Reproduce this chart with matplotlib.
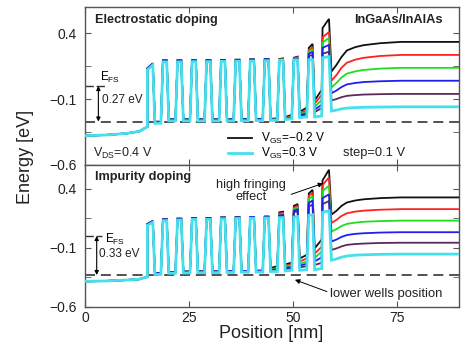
import matplotlib
matplotlib.use("Agg")
import matplotlib.pyplot as plt

plt.rcParams['font.family'] = ['Liberation Sans', 'DejaVu Sans']
plt.rcParams['mathtext.fontset'] = 'custom'
plt.rcParams['mathtext.rm'] = 'Liberation Sans'

# ---- data (energies in eV, positions in nm) ----
curve_names = ["VGS=-0.2", "VGS=-0.1", "VGS=0.0", "VGS=0.1", "VGS=0.2", "VGS=0.3"]
curve_colors = ["#111111", "#ff2020", "#20dd20", "#2020ee", "#5a2a5c", "#45e0ee"]
draw_order = [0, 1, 2, 4, 3, 5]

barrier_x = [15.7, 19.2, 22.7, 26.2, 29.7, 33.2, 36.7, 40.2, 43.7, 47.2, 50.7, 54.3, 57.9]
left_x = [0, 5, 10, 13, 15]
rec_x = [59.3, 60.5, 61.7, 63, 65, 67, 71, 76, 90]

# early part (same for all curves, other curves sit slightly above cyan)
early_shift = [0.011, 0.011, 0.011, 0.011, 0.011, 0.0]

# --- electrostatic doping (top panel)
es_left = [-0.377, -0.372, -0.36, -0.345, -0.31]
es_b0_left = 0.123
es_tops = [0.16, 0.183, 0.183, 0.185, 0.185, 0.187, 0.188, 0.19, 0.192]
es_wells = [-0.283, -0.265, -0.265, -0.265, -0.265, -0.265, -0.264, -0.263]
es_tops_l = [[0.205, 0.215, 0.29, 0.44], [0.2, 0.21, 0.275, 0.37], [0.198, 0.205, 0.262, 0.33],
             [0.196, 0.202, 0.245, 0.29], [0.195, 0.2, 0.228, 0.245], [0.195, 0.198, 0.2, 0.215]]
es_tops_r = [[0.21, 0.223, 0.32, 0.51], [0.205, 0.218, 0.295, 0.41], [0.203, 0.213, 0.28, 0.365],
             [0.2, 0.207, 0.26, 0.312], [0.198, 0.203, 0.236, 0.26], [0.195, 0.198, 0.2, 0.223]]
es_wells_l = [[-0.25, -0.235, -0.195, -0.11], [-0.252, -0.24, -0.205, -0.135], [-0.254, -0.245, -0.215, -0.16],
              [-0.255, -0.248, -0.222, -0.18], [-0.256, -0.252, -0.23, -0.198], [-0.262, -0.255, -0.24, -0.235]]
es_wells_r = [[-0.245, -0.22, -0.165, -0.03], [-0.25, -0.23, -0.185, -0.067], [-0.252, -0.235, -0.197, -0.105],
              [-0.254, -0.24, -0.207, -0.143], [-0.255, -0.245, -0.218, -0.168], [-0.26, -0.25, -0.235, -0.228]]
es_rec = [[0.11, 0.16, 0.22, 0.27, 0.295, 0.31, 0.325, 0.335, 0.335],
          [0.04, 0.083, 0.138, 0.177, 0.2, 0.214, 0.228, 0.236, 0.236],
          [-0.01, 0.023, 0.064, 0.094, 0.111, 0.122, 0.132, 0.138, 0.138],
          [-0.055, -0.034, -0.008, 0.012, 0.023, 0.03, 0.036, 0.04, 0.04],
          [-0.11, -0.099, -0.085, -0.075, -0.069, -0.065, -0.062, -0.06, -0.06],
          [-0.19, -0.183, -0.174, -0.168, -0.164, -0.162, -0.16, -0.158, -0.158]]
es_efs, es_lower = 0.0, -0.27

# --- impurity doping (bottom panel)
id_left = [-0.383, -0.38, -0.372, -0.365, -0.345]
id_b0_left = 0.09
id_tops = [0.115, 0.13, 0.135, 0.14, 0.14, 0.145, 0.148, 0.15, 0.152]
id_wells = [-0.325, -0.315, -0.312, -0.31, -0.31, -0.308, -0.306, -0.305]
id_tops_l = [[0.2, 0.255, 0.36, 0.47], [0.19, 0.24, 0.34, 0.43], [0.18, 0.228, 0.315, 0.38],
             [0.174, 0.215, 0.28, 0.32], [0.167, 0.2, 0.25, 0.27], [0.155, 0.16, 0.175, 0.2]]
id_tops_r = [[0.205, 0.27, 0.39, 0.56], [0.195, 0.255, 0.365, 0.495], [0.185, 0.24, 0.335, 0.425],
             [0.178, 0.225, 0.3, 0.352], [0.17, 0.21, 0.265, 0.295], [0.155, 0.165, 0.18, 0.212]]
id_wells_l = [[-0.27, -0.24, -0.19, -0.105], [-0.28, -0.25, -0.215, -0.15], [-0.285, -0.26, -0.235, -0.185],
              [-0.29, -0.27, -0.25, -0.215], [-0.295, -0.28, -0.265, -0.245], [-0.3, -0.295, -0.29, -0.285]]
id_wells_r = [[-0.255, -0.225, -0.16, -0.03], [-0.27, -0.24, -0.19, -0.09], [-0.275, -0.25, -0.215, -0.132],
              [-0.28, -0.262, -0.235, -0.18], [-0.29, -0.275, -0.255, -0.226], [-0.3, -0.29, -0.285, -0.275]]
id_rec = [[0.181, 0.213, 0.254, 0.283, 0.3, 0.31, 0.32, 0.326, 0.326],
          [0.11, 0.136, 0.169, 0.192, 0.206, 0.214, 0.222, 0.227, 0.227],
          [0.038, 0.058, 0.084, 0.102, 0.113, 0.12, 0.126, 0.13, 0.13],
          [-0.047, -0.03, -0.008, 0.008, 0.018, 0.023, 0.029, 0.032, 0.032],
          [-0.118, -0.105, -0.088, -0.075, -0.068, -0.064, -0.059, -0.057, -0.057],
          [-0.205, -0.194, -0.179, -0.169, -0.162, -0.159, -0.155, -0.153, -0.153]]
id_efs, id_lower = 0.0, -0.33


def band_profile(left, b0_left, tops, wells, tl, tr, wl, wr, rec, shift):
    tops_l = [b0_left + shift] + [t + shift for t in tops[1:]] + tl
    tops_r = [t + shift for t in tops] + tr
    w_l = [w + shift for w in wells] + wl
    w_r = [w + shift for w in wells] + wr
    xs = list(left_x)
    ys = list(left)
    xs += [15.0, 16.3, 16.8]
    ys += [tops_l[0], tops_r[0], w_l[0]]
    for k in range(1, len(barrier_x) - 1):
        c = barrier_x[k]
        xs += [c - 0.95, c - 0.45, c + 0.45, c + 0.95]
        ys += [w_r[k - 1], tops_l[k], tops_r[k], w_l[k]]
    c = barrier_x[-1]
    xs += [c - 0.95, c - 0.75, c + 0.8]
    ys += [w_r[-1], tops_l[-1], tops_r[-1]]
    xs += rec_x
    ys += rec
    return xs, ys


fig = plt.figure(figsize=(4.70, 3.47), dpi=100)
ax1 = fig.add_axes([0.181, 0.5245, 0.7957, 0.4553])
ax2 = fig.add_axes([0.181, 0.1153, 0.7957, 0.4092])

panels = [
    (ax1, es_left, es_b0_left, es_tops, es_wells, es_tops_l, es_tops_r, es_wells_l, es_wells_r, es_rec),
    (ax2, id_left, id_b0_left, id_tops, id_wells, id_tops_l, id_tops_r, id_wells_l, id_wells_r, id_rec),
]

top_lines = {}
for ax, left, b0l, tops, wells, tl, tr, wl, wr, rec in panels:
    for z, i in enumerate(draw_order):
        xs, ys = band_profile(left, b0l, tops, wells, tl[i], tr[i], wl[i], wr[i], rec[i], early_shift[i])
        lw = 2.0 if i == len(curve_colors) - 1 else 1.3
        ln, = ax.plot(xs, ys, color=curve_colors[i], lw=lw, solid_joinstyle='miter', zorder=3 + z)
        if ax is ax1:
            top_lines[i] = ln

for ax, efs, low, ax_x in [(ax1, es_efs, es_lower, 3.2), (ax2, id_efs, id_lower, 2.8)]:
    ax.plot([0, 90], [low, low], color='#333333', lw=1.2, ls=(0, (6, 3.5)), zorder=2)
    ax.plot([0, 5.2 if ax is ax1 else 4.0], [efs, efs], color='#333333', lw=1.0, ls=(0, (6, 2)), zorder=2)
    ax.annotate('', xy=(ax_x, efs), xytext=(ax_x, low),
                arrowprops=dict(arrowstyle='<|-|>', color='black', lw=0.8, mutation_scale=6,
                                shrinkA=0, shrinkB=0))
    ax.set_xlim(0, 90)
    ax.set_ylim(-0.6, 0.6)
    ax.set_yticks([0.4, -0.1, -0.6])
    ax.set_yticks([0.15, -0.35], minor=True)
    ax.set_xticks([0, 25, 50, 75])
    ax.tick_params(which='both', direction='in', top=True, right=True, length=4,
                   color='#555555', labelsize=10, labelcolor='#222222', pad=6)
    ax.tick_params(axis='x', pad=3)
    for s in ax.spines.values():
        s.set_color('#555555')
        s.set_linewidth(1.0)

ax1.tick_params(labelbottom=False)

# texts, top panel
ax1.text(0.027, 0.918, 'Electrostatic doping', transform=ax1.transAxes, fontsize=9.2,
         fontweight='bold', va='center', ha='left', color='#222222')
ax1.text(0.955, 0.918, 'InGaAs/InAlAs', transform=ax1.transAxes, fontsize=9.2,
         fontweight='bold', va='center', ha='right', color='#222222')
ax1.text(3.6, 0.065, r'E$_{\mathregular{FS}}$', fontsize=8.5, va='center', ha='left')
ax1.text(4.1, -0.105, '0.27 eV', fontsize=8.5, va='center', ha='left', color='#222222')
ax1.text(0.021, 0.076, r'V$_{\mathregular{DS}}$=0.4 V', transform=ax1.transAxes, fontsize=9,
         va='center', ha='left', color='#222222')
ax1.text(0.69, 0.076, 'step=0.1 V', transform=ax1.transAxes, fontsize=9.3,
         va='center', ha='left', color='#222222')
ax1.legend([top_lines[0], top_lines[5]],
           [r'V$_{\mathregular{GS}}$=−0.2 V', r'V$_{\mathregular{GS}}$=0.3 V'],
           loc='center left', bbox_to_anchor=(0.382, 0.12), frameon=False, fontsize=8.6,
           borderpad=0, borderaxespad=0, handlelength=2.05, handletextpad=0.7, labelspacing=0.0)

# texts, bottom panel
ax2.text(0.027, 0.913, 'Impurity doping', transform=ax2.transAxes, fontsize=9.2,
         fontweight='bold', va='center', ha='left', color='#222222')
ax2.text(4.8, -0.025, r'E$_{\mathregular{FS}}$', fontsize=8.5, va='center', ha='left')
ax2.text(3.4, -0.155, '0.33 eV', fontsize=8.5, va='center', ha='left', color='#222222')
ax2.text(40.0, 0.378, 'high fringing\neffect', fontsize=9.2, ha='center', va='center',
         linespacing=1.05, color='#222222')
ax2.annotate('', xy=(57.3, 0.445), xytext=(49.6, 0.352),
             arrowprops=dict(arrowstyle='-|>', color='black', lw=0.7, mutation_scale=7,
                             shrinkA=0, shrinkB=0), zorder=10)
ax2.text(58.95, -0.488, 'lower wells position', fontsize=9.4, ha='left', va='center', color='#222222')
ax2.annotate('', xy=(50.5, -0.37), xytext=(58.2, -0.47),
             arrowprops=dict(arrowstyle='-|>', color='black', lw=0.7, mutation_scale=7,
                             shrinkA=0, shrinkB=0), zorder=10)

fig.text(0.055, 0.548, 'Energy [eV]', rotation=90, fontsize=13, ha='center', va='center', color='#222222')
fig.text(0.577, 0.038, 'Position [nm]', fontsize=13, ha='center', va='center', color='#222222')

fig.savefig('out.png', dpi=100)
